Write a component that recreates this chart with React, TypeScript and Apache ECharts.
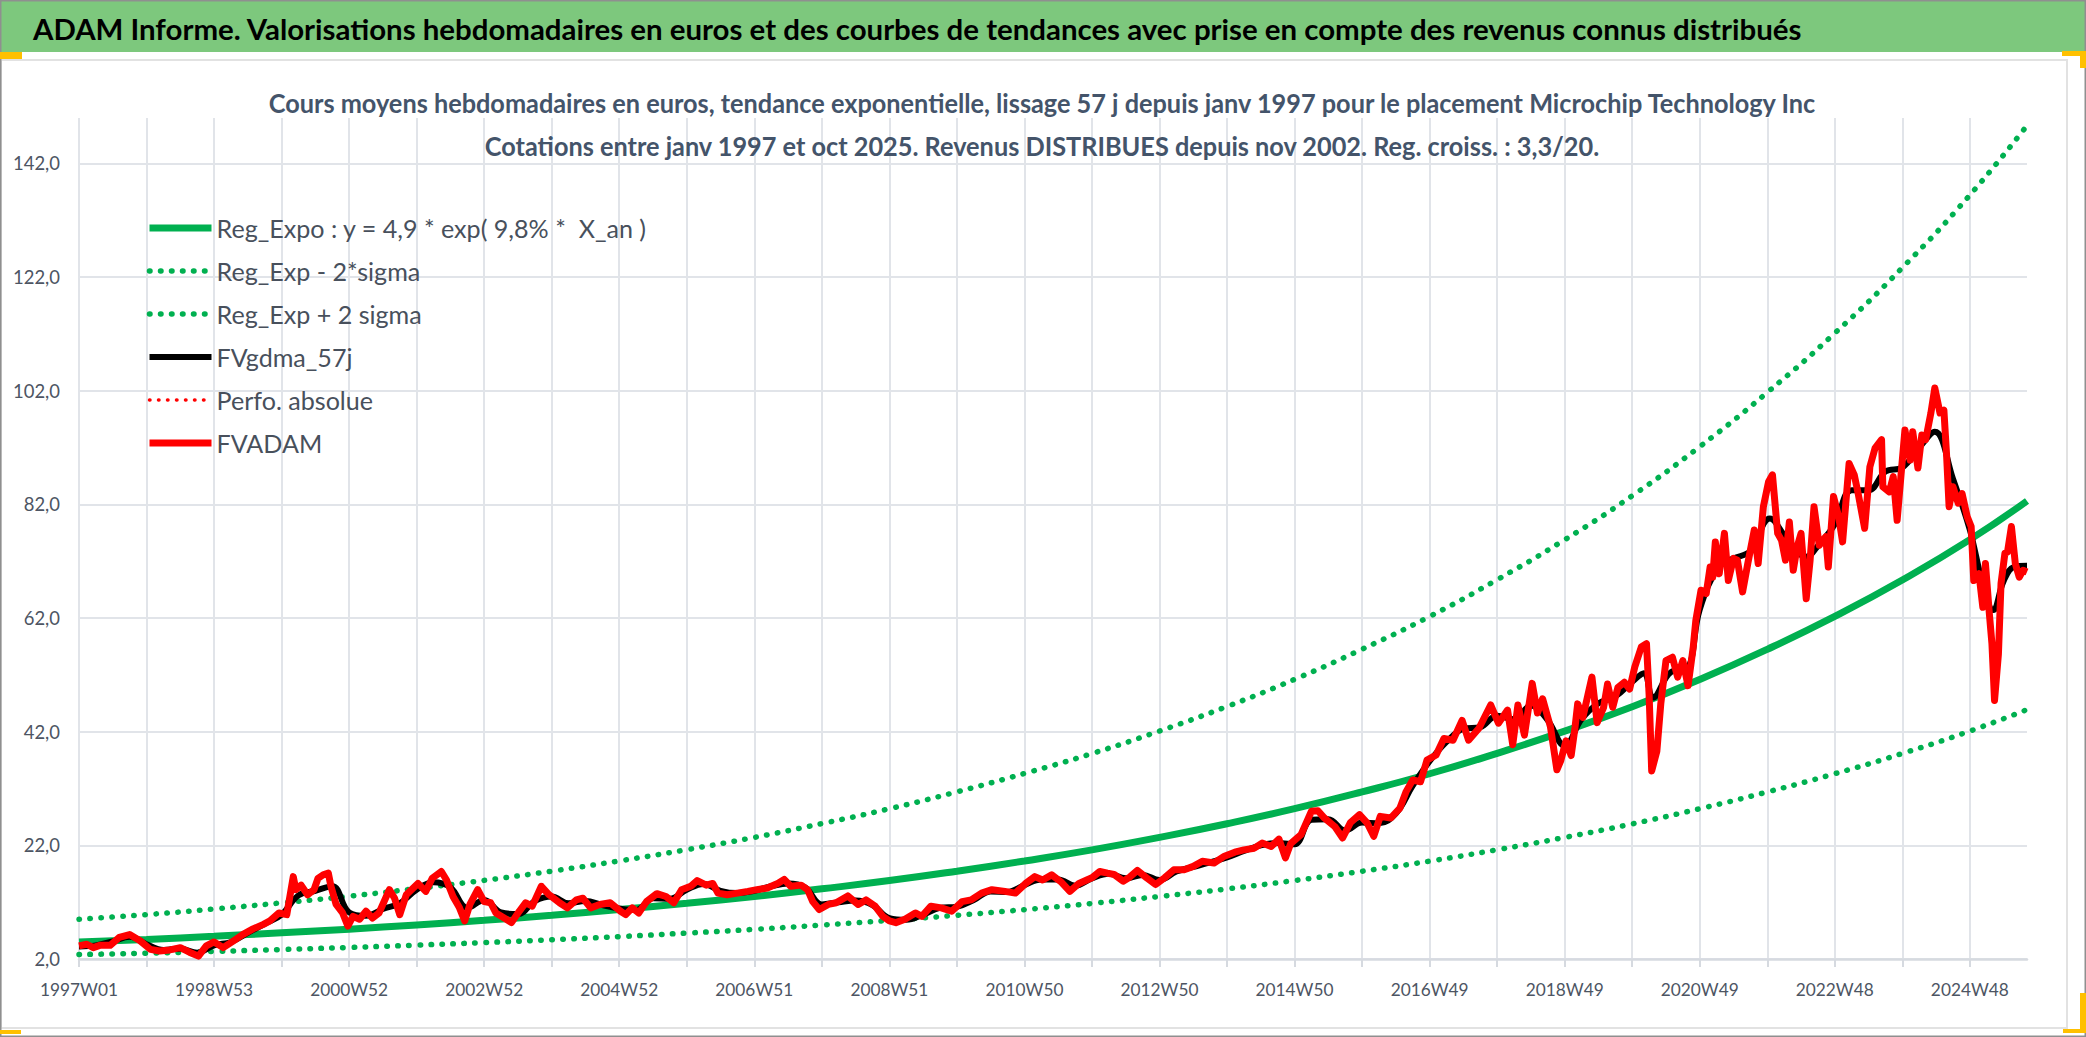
import React, { useEffect, useRef } from 'react';
import * as echarts from 'echarts';

// ---------- data ----------
const tickLabels = ['1997W01', '1998W53', '2000W52', '2002W52', '2004W52', '2006W51', '2008W51', '2010W50', '2012W50', '2014W50', '2016W49', '2018W49', '2020W49', '2022W48', '2024W48'];

const legendNames = [
  'Reg_Expo : y = 4,9 * exp( 9,8% *  X_an )',
  'Reg_Exp - 2*sigma',
  'Reg_Exp + 2 sigma',
  'FVgdma_57j',
  'Perfo. absolue',
  'FVADAM',
];

const regWeeks = [0, 52, 104, 156, 208, 260, 312, 364, 416, 468, 520, 572, 624, 676, 728, 780, 832, 884, 936, 988, 1040, 1092, 1144, 1196, 1248, 1300, 1352, 1404, 1456, 1500];
const regExpo = [5.0, 5.45, 6.0, 6.6, 7.25, 8.0, 8.8, 9.7, 10.7, 11.8, 13.0, 14.35, 15.8, 17.45, 19.25, 21.2, 23.4, 25.8, 28.45, 31.4, 34.6, 38.2, 42.1, 46.4, 51.2, 56.5, 62.3, 68.7, 75.8, 82.6];
const regMinus = [2.78, 3.03, 3.33, 3.67, 4.03, 4.44, 4.89, 5.39, 5.94, 6.56, 7.22, 7.97, 8.78, 9.69, 10.69, 11.78, 13.0, 14.33, 15.81, 17.44, 19.22, 21.22, 23.39, 25.78, 28.44, 31.39, 34.61, 38.17, 42.11, 45.89];
const regPlus = [9.0, 9.81, 10.8, 11.88, 13.05, 14.4, 15.84, 17.46, 19.26, 21.24, 23.4, 25.83, 28.44, 31.41, 34.65, 38.16, 42.12, 46.44, 51.21, 56.52, 62.28, 68.76, 75.78, 83.52, 92.16, 101.7, 112.14, 123.66, 136.44, 148.68];

const fvgdma: [number, number][] = [
  [0, 4.2], [13, 4.4], [26, 5.1], [39, 5.9], [52, 4.6], [65, 3.6], [78, 3.8], [91, 3.1], [104, 4.4], [117, 5.0], [130, 6.6], [143, 8.2], [156, 9.8], [169, 13.2], [182, 14.0], [195, 14.8], [208, 10.2], [221, 9.6], [234, 10.8], [247, 11.8], [260, 14.2], [273, 15.5], [286, 14.6], [299, 11.0], [312, 12.4], [325, 10.2], [338, 9.9], [351, 12.2], [364, 13.0], [377, 11.8], [390, 12.2], [403, 11.5], [416, 10.9], [429, 10.6], [442, 12.7], [455, 12.6], [468, 14.2], [481, 15.2], [494, 14.0], [507, 13.6], [520, 14.0], [533, 14.8], [546, 15.3], [559, 14.6], [572, 11.6], [585, 12.0], [598, 12.3], [611, 11.5], [624, 9.2], [637, 8.9], [650, 9.8], [663, 11.0], [676, 11.2], [689, 12.4], [702, 13.9], [715, 13.8], [728, 15.0], [741, 16.0], [754, 16.0], [767, 14.9], [780, 16.2], [793, 17.0], [806, 16.2], [819, 16.8], [832, 15.9], [845, 17.4], [858, 18.2], [871, 19.0], [884, 19.9], [897, 21.0], [910, 22.0], [923, 22.4], [936, 22.2], [949, 26.5], [962, 26.6], [975, 24.6], [988, 26.0], [1001, 25.9], [1014, 27.6], [1027, 32.5], [1040, 36.8], [1053, 40.2], [1066, 42.5], [1079, 42.8], [1092, 44.8], [1105, 44.2], [1118, 46.6], [1131, 44.0], [1144, 39.5], [1157, 44.2], [1170, 47.0], [1183, 48.2], [1196, 50.8], [1205, 52.3], [1212, 48.0], [1226, 52.5], [1238, 53.0], [1248, 63.5], [1263, 71.2], [1274, 72.5], [1287, 73.8], [1302, 79.5], [1315, 76.0], [1330, 72.8], [1340, 75.0], [1352, 78.5], [1365, 84.5], [1378, 84.5], [1391, 87.8], [1404, 88.5], [1417, 92.0], [1429, 94.8], [1443, 86.5], [1456, 77.5], [1466, 68.0], [1474, 63.4], [1482, 68.5], [1490, 71.0], [1500, 71.2],
];

const fvadam: [number, number][] = [
  [0, 4.3], [6, 4.6], [11, 4.0], [16, 4.4], [24, 4.4], [31, 5.8], [39, 6.3], [47, 5.2], [55, 3.7], [62, 3.4], [70, 3.6], [78, 4.0], [85, 3.2], [92, 2.5], [98, 4.3], [104, 5.0], [111, 4.0], [119, 5.2], [126, 6.3], [134, 7.3], [142, 8.1], [147, 8.7], [154, 10.1], [160, 9.8], [165, 16.5], [167, 14.2], [171, 15.0], [176, 13.3], [181, 14.2], [184, 16.2], [188, 16.8], [192, 17.1], [194, 14.8], [198, 11.6], [203, 10.1], [207, 7.8], [211, 9.5], [216, 9.0], [221, 10.4], [226, 9.2], [231, 10.1], [239, 14.2], [243, 12.7], [247, 9.8], [252, 13.3], [261, 15.3], [267, 13.9], [272, 16.2], [279, 17.4], [283, 15.9], [288, 13.0], [293, 11.0], [297, 8.7], [301, 11.6], [307, 14.2], [312, 12.1], [317, 11.9], [321, 10.1], [329, 9.0], [333, 8.4], [339, 10.4], [344, 11.9], [349, 11.3], [356, 14.8], [362, 13.3], [370, 11.9], [376, 11.0],
  [383, 12.4], [388, 12.7], [394, 11.0], [401, 11.6], [409, 11.9], [417, 10.4], [421, 9.8], [426, 11.0], [431, 10.1], [437, 12.1], [445, 13.5], [452, 13.0], [458, 11.9], [464, 14.2], [471, 14.8], [476, 15.8], [483, 15.0], [488, 15.3], [492, 13.6], [499, 13.3], [507, 13.6], [515, 13.9], [522, 14.2], [530, 14.5], [538, 15.3], [543, 16.0], [548, 14.8], [556, 15.0], [561, 14.2], [565, 12.1], [570, 10.7], [577, 11.6], [583, 11.9], [592, 13.1], [600, 11.6], [606, 12.4], [613, 11.3], [619, 9.5], [624, 8.7], [629, 8.4], [636, 9.0], [644, 10.1], [649, 9.5], [656, 11.3], [664, 11.0], [672, 10.4], [680, 12.1], [687, 12.4], [695, 13.6], [703, 14.2], [713, 13.9], [721, 13.6], [729, 15.3], [736, 16.5], [742, 15.9], [749, 16.8], [756, 15.6], [763, 13.9], [770, 15.3], [776, 15.9],
  [780, 16.3], [786, 17.4], [792, 17.1], [797, 16.9], [804, 15.7], [809, 16.4], [815, 17.6], [822, 16.3], [829, 15.1], [836, 16.3], [843, 17.7], [851, 17.7], [858, 18.3], [865, 19.2], [874, 18.9], [882, 20.1], [890, 20.8], [897, 21.2], [905, 21.5], [911, 22.4], [918, 21.8], [924, 23.1], [929, 19.8], [933, 22.3], [941, 23.9], [949, 28.0], [954, 28.1], [959, 26.8], [967, 25.3], [973, 23.3], [979, 26.0], [986, 27.4], [992, 25.9], [997, 23.6], [1002, 27.1], [1010, 26.8], [1017, 28.5], [1022, 31.5], [1027, 33.5], [1033, 33.2], [1038, 37.0], [1045, 37.9], [1051, 40.8], [1058, 40.5], [1065, 44.0], [1070, 40.5], [1078, 42.6], [1087, 46.7], [1093, 43.5], [1100, 45.8], [1104, 39.7], [1108, 46.7], [1113, 41.4], [1119, 50.5], [1123, 45.3], [1127, 47.8], [1133, 42.9], [1138, 35.3],
  [1141, 36.9], [1145, 40.4], [1149, 37.8], [1152, 42.8], [1154, 46.9], [1158, 44.5], [1162, 48.6], [1165, 51.6], [1169, 43.6], [1174, 46.3], [1177, 50.4], [1181, 46.3], [1185, 49.8], [1190, 50.7], [1194, 49.5], [1198, 53.4], [1203, 56.9], [1207, 57.5], [1209, 48.6], [1211, 35.1], [1215, 38.6], [1218, 46.9], [1222, 54.5], [1227, 55.1], [1231, 51.6], [1235, 54.5], [1239, 50.1], [1243, 56.9], [1245, 61.6], [1249, 66.9], [1253, 66.3], [1256, 71.0], [1258, 69.2], [1260, 75.4], [1263, 69.8], [1267, 76.9], [1270, 68.6], [1274, 72.5], [1277, 72.2], [1281, 66.6], [1285, 71.6], [1290, 77.5], [1293, 71.6], [1297, 81.6], [1301, 86.0], [1304, 87.2], [1308, 76.9], [1311, 75.7], [1314, 72.2], [1317, 78.9], [1320, 70.4], [1323, 74.5], [1326, 76.9], [1330, 65.4], [1333, 72.2], [1336, 81.6], [1340, 74.8],
  [1345, 76.3], [1347, 71.0], [1351, 83.4], [1355, 79.8], [1358, 75.4], [1363, 89.2], [1367, 87.2], [1370, 83.9], [1375, 77.8], [1379, 88.6], [1383, 91.9], [1388, 93.4], [1389, 85.1], [1394, 84.2], [1397, 86.9], [1400, 79.2], [1403, 87.2], [1406, 95.1], [1410, 89.8], [1412, 94.8], [1416, 88.4], [1419, 94.2], [1422, 93.4], [1426, 98.1], [1429, 102.5], [1433, 98.1], [1436, 98.6], [1438, 91.0], [1440, 81.6], [1443, 85.1], [1447, 82.2], [1450, 83.9], [1454, 79.8], [1457, 78.1], [1459, 68.6], [1463, 69.8], [1466, 63.9], [1468, 71.6], [1471, 62.8], [1473, 57.5], [1475, 47.5], [1478, 55.7], [1480, 68.1], [1483, 73.4], [1485, 73.6], [1488, 78.1], [1491, 71.6], [1494, 69.2], [1497, 70.4], [1500, 70.1],
];

const perfoAbsolue: [number, number][] = [];

const bannerTitle = 'ADAM Informe. Valorisations hebdomadaires en euros et des courbes de tendances avec prise en compte des revenus connus distribués';
const subTitle1 = 'Cours moyens hebdomadaires en euros, tendance exponentielle, lissage 57 j depuis janv 1997 pour le placement Microchip Technology Inc';
const subTitle2 = 'Cotations entre janv 1997 et oct 2025. Revenus DISTRIBUES depuis nov 2002. Reg. croiss. : 3,3/20.';

// ---------- layout ----------
const W = 2086;
const H = 1037;
const FONT = 'Lato';
const GREEN = '#00B050';
const RED = '#FF0000';

function measure(text: string, font: string): number {
  const ctx = document.createElement('canvas').getContext('2d');
  if (!ctx) return text.length * 10;
  ctx.font = font;
  return ctx.measureText(text).width;
}

export default function App() {
  const ref = useRef<HTMLDivElement>(null);

  useEffect(() => {
    if (!ref.current) return;
    const chart = echarts.init(ref.current, null, { renderer: 'svg', width: W, height: H });

    const bannerFont = `bold 29px ${FONT}`;
    const bannerScale = 1771 / measure(bannerTitle, bannerFont);
    const subFont = `bold 26px ${FONT}`;
    const subScale = 1550 / measure(subTitle1, subFont);
    const legendFs = (100 * 431) / measure(legendNames[0], `100px ${FONT}`);
    const yFs = (100 * 47) / measure('142,0', `100px ${FONT}`);
    const xFs = (100 * 78) / measure('1997W01', `100px ${FONT}`);

    const toPairs = (vals: number[]) => regWeeks.map((w, i) => [w, vals[i]]);

    const option: any = {
      animation: false,
      backgroundColor: '#ffffff',
      grid: { left: 79, right: W - 2027, top: 118, bottom: H - 959, containLabel: false },
      legend: {
        orient: 'vertical',
        left: 141,
        top: 208,
        itemWidth: 62,
        itemHeight: 20,
        itemGap: 13,
        data: legendNames,
        itemStyle: { opacity: 0, borderWidth: 0 },
        lineStyle: { width: 'inherit', type: 'inherit', cap: 'inherit', color: 'inherit' },
        textStyle: { fontFamily: FONT, fontSize: legendFs, color: '#48505c', lineHeight: 30 },
      },
      xAxis: {
        type: 'value',
        min: 0,
        max: 1500,
        interval: 52,
        axisLine: { show: true, lineStyle: { color: '#d6dae0', width: 2.5 } },
        axisTick: { show: true, length: 8, lineStyle: { color: '#d6dae0', width: 2 } },
        splitLine: { show: true, showMaxLine: false, lineStyle: { color: '#e1e4e9', width: 2 } },
        axisLabel: {
          margin: 22,
          fontFamily: FONT,
          fontSize: xFs,
          color: '#4d5563',
          showMinLabel: true,
          showMaxLabel: false,
          formatter: (v: number) => (v % 104 === 0 && tickLabels[v / 104] ? tickLabels[v / 104] : ''),
        },
      },
      yAxis: {
        type: 'value',
        min: 2,
        max: 150,
        interval: 20,
        axisLine: { show: false },
        axisTick: { show: false },
        splitLine: { show: true, showMaxLine: false, lineStyle: { color: '#e1e4e9', width: 2 } },
        axisLabel: {
          margin: 19,
          fontFamily: FONT,
          fontSize: yFs,
          color: '#4d5563',
          showMaxLabel: false,
          formatter: (v: number) => (v >= 150 ? '' : v.toFixed(1).replace('.', ',')),
        },
      },
      series: [
        {
          name: legendNames[0], type: 'line', data: toPairs(regExpo), smooth: true, symbol: 'none',
          itemStyle: { color: GREEN }, lineStyle: { color: GREEN, width: 7 },
        },
        {
          name: legendNames[1], type: 'line', data: toPairs(regMinus), smooth: true, symbol: 'none',
          itemStyle: { color: GREEN }, lineStyle: { color: GREEN, width: 5.5, type: [0.5, 10.5], cap: 'round' },
        },
        {
          name: legendNames[2], type: 'line', data: toPairs(regPlus), smooth: true, symbol: 'none',
          itemStyle: { color: GREEN }, lineStyle: { color: GREEN, width: 5.5, type: [0.5, 10.5], cap: 'round' },
        },
        {
          name: legendNames[3], type: 'line', data: fvgdma, smooth: 0.4, symbol: 'none',
          itemStyle: { color: '#000000' }, lineStyle: { color: '#000000', width: 6 },
        },
        {
          name: legendNames[4], type: 'line', data: perfoAbsolue, symbol: 'none',
          itemStyle: { color: RED }, lineStyle: { color: RED, width: 3.5, type: [0.5, 8.5], cap: 'round' },
        },
        {
          name: legendNames[5], type: 'line', data: fvadam, symbol: 'none',
          itemStyle: { color: RED }, lineStyle: { color: RED, width: 7, join: 'round' },
        },
      ],
      graphic: [
        { type: 'rect', shape: { x: 0, y: 0, width: W, height: 52 }, style: { fill: '#7dc87d' }, z: 10 },
        { type: 'rect', shape: { x: 0.75, y: 0.75, width: W - 1.5, height: H - 1.5 }, style: { fill: 'none', stroke: '#8f8f8f', lineWidth: 1.5 }, z: 11 },
        { type: 'rect', shape: { x: 1, y: 60, width: 2066, height: 968 }, style: { fill: 'none', stroke: '#e2e2e2', lineWidth: 2 }, z: 9 },
        { type: 'rect', shape: { x: 0, y: 52, width: 22, height: 7 }, style: { fill: '#FFC000' }, z: 12 },
        { type: 'rect', shape: { x: 2062, y: 51, width: 24, height: 5 }, style: { fill: '#FFC000' }, z: 12 },
        { type: 'rect', shape: { x: 2080, y: 51, width: 6, height: 17 }, style: { fill: '#FFC000' }, z: 12 },
        { type: 'rect', shape: { x: 2080, y: 993, width: 6, height: 40 }, style: { fill: '#FFC000' }, z: 12 },
        { type: 'rect', shape: { x: 2063, y: 1029, width: 23, height: 4 }, style: { fill: '#FFC000' }, z: 12 },
        { type: 'rect', shape: { x: 0, y: 1030, width: 21, height: 4 }, style: { fill: '#FFC000' }, z: 12 },
        {
          type: 'text', x: 33, y: 29, scaleX: bannerScale, z: 13,
          style: { text: bannerTitle, fill: '#000000', fontFamily: FONT, fontWeight: 'bold', fontSize: 29, align: 'left', verticalAlign: 'middle' },
        },
        {
          type: 'text', x: 1042, y: 103, scaleX: subScale, z: 13,
          style: { text: subTitle1, fill: '#44546A', fontFamily: FONT, fontWeight: 'bold', fontSize: 26, align: 'center', verticalAlign: 'middle' },
        },
        {
          type: 'text', x: 1042, y: 146, scaleX: subScale, z: 13,
          style: { text: subTitle2, fill: '#44546A', fontFamily: FONT, fontWeight: 'bold', fontSize: 26, align: 'center', verticalAlign: 'middle' },
        },
      ],
    };

    chart.setOption(option);
    return () => chart.dispose();
  }, []);

  return (
    <div
      ref={ref}
      style={{ position: 'fixed', left: 0, top: 0, width: W + 'px', height: H + 'px', background: '#ffffff' }}
    />
  );
}
